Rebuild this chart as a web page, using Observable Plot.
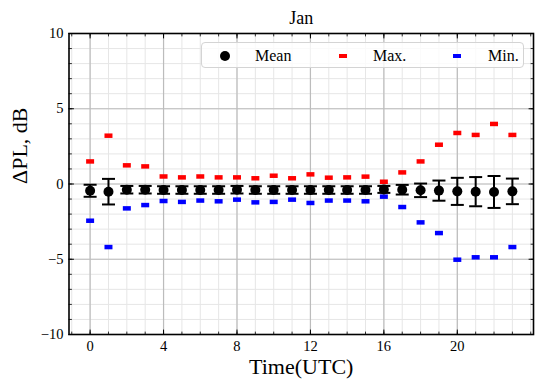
<!DOCTYPE html>
<html>
<head>
<meta charset="utf-8">
<script src="https://cdn.jsdelivr.net/npm/d3@7"></script>
<script src="https://cdn.jsdelivr.net/npm/@observablehq/plot@0.6"></script>
<style>
  html, body { margin: 0; padding: 0; background: #fff; }
  #wrap { position: relative; width: 543px; height: 382px; font-family: "Liberation Serif", "Times New Roman", serif; }
  #wrap svg text { font-family: "Liberation Serif", "Times New Roman", serif; }
  #legend { position: absolute; left: 201px; top: 42px; width: 323px; height: 26px; border: 1px solid #d4d4d4; border-radius: 4px; background: rgba(255,255,255,0.8); box-sizing: border-box; }
  .lg { position: absolute; font-size: 16px; line-height: 16px; top: 5px; color: #000; }
  .sym { position: absolute; }
</style>
</head>
<body>
<div id="wrap"></div>
<script>
const hours = [0,1,2,3,4,5,6,7,8,9,10,11,12,13,14,15,16,17,18,19,20,21,22,23];
const meanVals = [-0.45,-0.51,-0.38,-0.38,-0.40,-0.40,-0.40,-0.40,-0.38,-0.40,-0.40,-0.40,-0.40,-0.40,-0.40,-0.40,-0.36,-0.38,-0.42,-0.44,-0.49,-0.51,-0.53,-0.49];
const errVals = [0.40,0.85,0.25,0.25,0.25,0.25,0.25,0.25,0.25,0.25,0.25,0.25,0.25,0.25,0.25,0.25,0.23,0.32,0.45,0.67,0.90,0.97,1.06,0.85];
const maxVals = [1.50,3.21,1.24,1.17,0.50,0.44,0.50,0.44,0.44,0.38,0.55,0.38,0.64,0.42,0.44,0.49,0.15,0.77,1.50,2.61,3.39,3.26,3.99,3.26];
const minVals = [-2.44,-4.19,-1.62,-1.40,-1.13,-1.19,-1.10,-1.15,-1.04,-1.22,-1.19,-1.04,-1.26,-1.10,-1.10,-1.15,-0.84,-1.53,-2.55,-3.26,-5.03,-4.87,-4.87,-4.19];
const xMajorTicks = [0,4,8,12,16,20];
const xMinorTicks = [-1,0,1,2,3,4,5,6,7,8,9,10,11,12,13,14,15,16,17,18,19,20,21,22,23,24];
const yMajorTicks = [-10,-5,0,5,10];
const yMinorTicks = [-10,-9,-8,-7,-6,-5,-4,-3,-2,-1,0,1,2,3,4,5,6,7,8,9,10];
const titleText = "Jan";
const xLabel = "Time(UTC)";
const yLabel = "ΔPL, dB";

const serif = "Liberation Serif, Times New Roman, serif";
const data = hours.map((h, i) => ({hour: h, mean: meanVals[i], err: errVals[i], max: maxVals[i], min: minVals[i]}));
const line = {draw(ctx, l) { ctx.moveTo(0, 0); ctx.lineTo(0, -l); }};

const tickMarks = (vals, axis, len, sw) => {
  if (axis === "x") return [
    Plot.vector(vals, {x: d => d, frameAnchor: "bottom", length: len, anchor: "start", rotate: 0, shape: line, stroke: "black", strokeWidth: sw}),
    Plot.vector(vals, {x: d => d, frameAnchor: "top", length: len, anchor: "start", rotate: 180, shape: line, stroke: "black", strokeWidth: sw})
  ];
  return [
    Plot.vector(vals, {y: d => d, frameAnchor: "left", length: len, anchor: "start", rotate: 90, shape: line, stroke: "black", strokeWidth: sw}),
    Plot.vector(vals, {y: d => d, frameAnchor: "right", length: len, anchor: "start", rotate: -90, shape: line, stroke: "black", strokeWidth: sw})
  ];
};

const chart = Plot.plot({
  width: 543,
  height: 382,
  marginLeft: 68.5,
  marginRight: 10,
  marginTop: 33,
  marginBottom: 48,
  style: {fontFamily: serif, fontSize: "14.5px", background: "white", color: "black"},
  x: {domain: [-1.15, 24.15]},
  y: {domain: [-10, 10]},
  marks: [
    Plot.gridX(xMinorTicks, {stroke: "#e6e6e6", strokeOpacity: 1, strokeWidth: 1}),
    Plot.gridY(yMinorTicks, {stroke: "#e6e6e6", strokeOpacity: 1, strokeWidth: 1}),
    Plot.gridX(xMajorTicks, {stroke: "#bcbcbc", strokeOpacity: 1, strokeWidth: 1.2}),
    Plot.gridY(yMajorTicks, {stroke: "#bcbcbc", strokeOpacity: 1, strokeWidth: 1.2}),
    Plot.vector(data, {x: "hour", y: "max", rotate: 90, anchor: "middle", length: 8, shape: line, stroke: "#ff0000", strokeWidth: 4.5, strokeLinecap: "butt"}),
    Plot.vector(data, {x: "hour", y: "min", rotate: 90, anchor: "middle", length: 8, shape: line, stroke: "#0000ff", strokeWidth: 4.5, strokeLinecap: "butt"}),
    Plot.ruleX(data, {x: "hour", y1: d => d.mean - d.err, y2: d => d.mean + d.err, stroke: "black", strokeWidth: 2}),
    Plot.vector(data, {x: "hour", y: d => d.mean - d.err, rotate: 90, anchor: "middle", length: 13, shape: line, stroke: "black", strokeWidth: 2, strokeLinecap: "butt"}),
    Plot.vector(data, {x: "hour", y: d => d.mean + d.err, rotate: 90, anchor: "middle", length: 13, shape: line, stroke: "black", strokeWidth: 2, strokeLinecap: "butt"}),
    Plot.dot(data, {x: "hour", y: "mean", r: 5, fill: "black", stroke: null}),
    Plot.frame({stroke: "black", strokeWidth: 1.6}),
    ...tickMarks(xMinorTicks, "x", 2.5, 0.8),
    ...tickMarks(yMinorTicks, "y", 2.5, 0.8),
    ...tickMarks(xMajorTicks, "x", 4.5, 1),
    ...tickMarks(yMajorTicks, "y", 4.5, 1),
    Plot.axisX(xMajorTicks, {tickSize: 0, tickPadding: 6, label: null, fontSize: 14.5, fontFamily: serif}),
    Plot.axisY(yMajorTicks, {tickSize: 0, tickPadding: 5.5, label: null, fontSize: 14.5, fontFamily: serif}),
    Plot.text([titleText], {frameAnchor: "top", dy: -15, lineAnchor: "middle", fontSize: 18, fontFamily: serif}),
    Plot.text([xLabel], {frameAnchor: "bottom", dy: 32.5, lineAnchor: "middle", fontSize: 22, fontFamily: serif}),
    Plot.text([yLabel], {frameAnchor: "left", dx: -49.5, rotate: -90, lineAnchor: "middle", fontSize: 22, fontFamily: serif})
  ]
});

const wrap = document.getElementById("wrap");
wrap.appendChild(chart);

const legend = document.createElement("div");
legend.id = "legend";
const items = [
  {label: "Mean", kind: "dot", color: "black", sx: 23.3, tx: 53},
  {label: "Max.", kind: "rect", color: "#ff0000", sx: 140.7, tx: 171},
  {label: "Min.", kind: "rect", color: "#0000ff", sx: 255, tx: 286}
];
for (const it of items) {
  const s = document.createElement("div");
  s.className = "sym";
  if (it.kind === "dot") {
    Object.assign(s.style, {left: (it.sx - 5) + "px", top: "7.5px", width: "10px", height: "10px", borderRadius: "50%", background: it.color});
  } else {
    Object.assign(s.style, {left: (it.sx - 4) + "px", top: "10.5px", width: "8px", height: "4.5px", background: it.color});
  }
  legend.appendChild(s);
  const t = document.createElement("div");
  t.className = "lg";
  t.style.left = it.tx + "px";
  t.textContent = it.label;
  legend.appendChild(t);
}
wrap.appendChild(legend);
</script>
</body>
</html>
